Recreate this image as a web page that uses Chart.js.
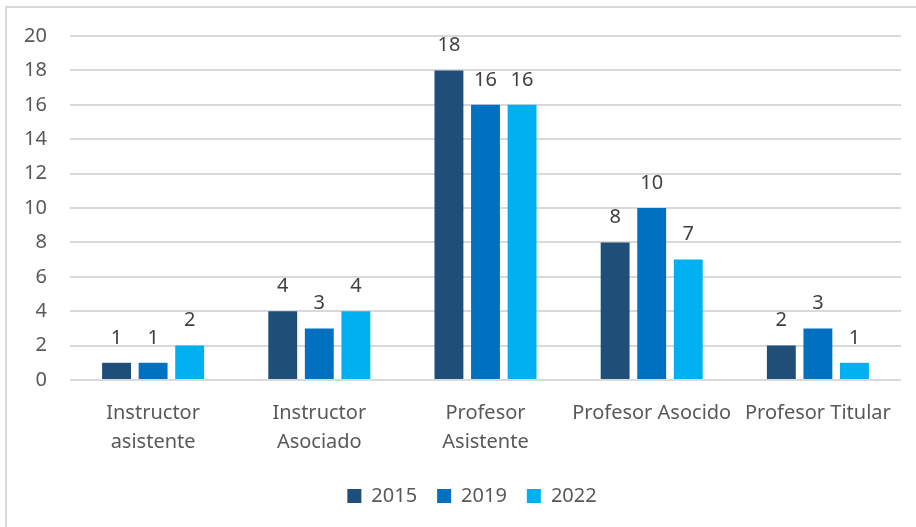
<!DOCTYPE html>
<html>
<head>
<meta charset="utf-8">
<script src="https://cdn.jsdelivr.net/npm/chart.js@4"></script>
<style>
  html, body { margin: 0; padding: 0; background: #fff; }
  #wrap { position: relative; width: 916px; height: 527px; overflow: hidden; }
  #frame { position: absolute; left: 5px; top: 6px; width: 930px; height: 540px;
           border-left: 2px solid #d9d9d9; border-top: 2px solid #d9d9d9; pointer-events: none; }
  canvas { position: absolute; left: 0; top: 0; }
</style>
</head>
<body>
<div id="wrap">
  <canvas id="chart" width="940" height="527"></canvas>
  <div id="frame"></div>
</div>
<script>
const categories = [
  ['Instructor', 'asistente'],
  ['Instructor', 'Asociado'],
  ['Profesor', 'Asistente'],
  'Profesor Asocido',
  'Profesor Titular'
];
const years = ['2015', '2019', '2022'];
const values2015 = [1, 4, 18, 8, 2];
const values2019 = [1, 3, 16, 10, 3];
const values2022 = [2, 4, 16, 7, 1];
const yTicks = [0, 2, 4, 6, 8, 10, 12, 14, 16, 18, 20];

const colors = ['#1F4E79', '#0070C0', '#00B0F0'];
const font = "'Noto Sans', sans-serif";

// draws the value above every bar
const valueLabels = {
  id: 'valueLabels',
  afterDatasetsDraw(chart) {
    const ctx = chart.ctx;
    ctx.save();
    ctx.font = '20px ' + font;
    ctx.fillStyle = '#404040';
    ctx.textAlign = 'center';
    ctx.textBaseline = 'middle';
    chart.data.datasets.forEach((ds, i) => {
      chart.getDatasetMeta(i).data.forEach((bar, j) => {
        ctx.fillText(ds.data[j], bar.x, bar.y - 25);
      });
    });
    ctx.restore();
  }
};

// legend in the original is centred on the full (wider) frame, nudge it right
const legendShift = {
  id: 'legendShift',
  afterLayout(chart) {
    if (chart.legend) chart.legend.left += 43;
  }
};

new Chart(document.getElementById('chart'), {
  type: 'bar',
  data: {
    labels: categories,
    datasets: [values2015, values2019, values2022].map((d, i) => ({
      label: years[i],
      data: d,
      backgroundColor: colors[i],
      categoryPercentage: 0.66,
      barPercentage: 0.79
    }))
  },
  options: {
    responsive: false,
    animation: false,
    layout: { padding: { left: 0, right: 39, top: 36, bottom: 11 } },
    plugins: {
      tooltip: { enabled: false },
      legend: {
        position: 'bottom',
        labels: {
          boxWidth: 14,
          boxHeight: 14,
          padding: 20,
          color: '#595959',
          font: { family: font, size: 20 }
        }
      }
    },
    scales: {
      x: {
        grid: { display: false },
        border: { display: false },
        ticks: {
          color: '#595959',
          font: { family: font, size: 20, lineHeight: 1.45 },
          padding: 11,
          maxRotation: 0,
          autoSkip: false
        },
        afterFit(scale) { scale.height = 86; }
      },
      y: {
        min: 0,
        max: 20,
        afterBuildTicks(scale) { scale.ticks = yTicks.map(v => ({ value: v })); },
        grid: { color: '#d9d9d9', lineWidth: 2, drawTicks: false },
        border: { display: false },
        ticks: {
          color: '#595959',
          font: { family: font, size: 20 },
          padding: 23
        },
        afterFit(scale) { scale.width = 70; }
      }
    }
  },
  plugins: [valueLabels, legendShift]
});
</script>
</body>
</html>
